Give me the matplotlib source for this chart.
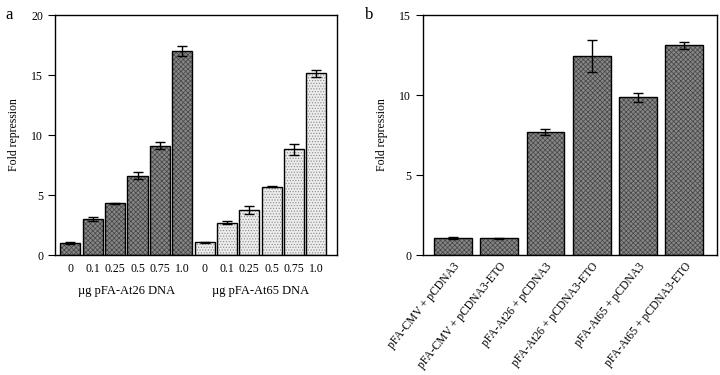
import matplotlib
matplotlib.use("Agg")
import matplotlib.pyplot as plt
import matplotlib.transforms as mtrans
import numpy as np

plt.rcParams['font.family'] = ['Liberation Serif', 'DejaVu Serif']
plt.rcParams['hatch.linewidth'] = 0.5

# Panel a data
doses = ["0", "0.1", "0.25", "0.5", "0.75", "1.0"]
at26_vals = [1.0, 3.0, 4.3, 6.6, 9.1, 17.0]
at26_err = [0.05, 0.2, 0.07, 0.3, 0.3, 0.45]
at65_vals = [1.05, 2.7, 3.75, 5.7, 8.8, 15.15]
at65_err = [0.05, 0.15, 0.3, 0.07, 0.45, 0.3]
group_labels = ["\u00b5g pFA-At26 DNA", "\u00b5g pFA-At65 DNA"]

# Panel b data
b_labels = ["pFA-CMV + pCDNA3", "pFA-CMV + pCDNA3-ETO", "pFA-At26 + pCDNA3",
            "pFA-At26 + pCDNA3-ETO", "pFA-At65 + pCDNA3", "pFA-At65 + pCDNA3-ETO"]
b_vals = [1.05, 1.05, 7.7, 12.45, 9.85, 13.1]
b_err = [0.07, 0.03, 0.2, 1.0, 0.3, 0.2]

fig = plt.figure(figsize=(7.2, 3.75), dpi=100)
axa = fig.add_axes([0.0764, 0.32, 0.3916, 0.64])
axb = fig.add_axes([0.5875, 0.32, 0.4083, 0.64])

dark_face, dark_hatch = '#868686', '#444444'
light_face, light_hatch = '#ececec', '#8a8a8a'


def textured_bars(ax, x, vals, width, face, hcol, hatch):
    ax.bar(x, vals, width=width, color=face, edgecolor=hcol, linewidth=0,
           hatch=hatch, zorder=2)
    ax.bar(x, vals, width=width, fill=False, edgecolor='black', linewidth=1.0,
           zorder=2.5)


n = len(doses)
xa1 = np.arange(n)
xa2 = np.arange(n) + n
textured_bars(axa, xa1, at26_vals, 0.9, dark_face, dark_hatch, 'xxxxxxx')
textured_bars(axa, xa2, at65_vals, 0.9, light_face, light_hatch, '......')
axa.errorbar(xa1, at26_vals, yerr=at26_err, fmt='none', ecolor='black',
             elinewidth=1.0, capsize=3.5, capthick=1.0, zorder=3)
axa.errorbar(xa2, at65_vals, yerr=at65_err, fmt='none', ecolor='black',
             elinewidth=1.0, capsize=3.5, capthick=1.0, zorder=3)
axa.set_xlim(-0.69, 2 * n - 0.08)
axa.set_ylim(0, 20)
axa.set_yticks([0, 5, 10, 15, 20])
axa.set_xticks(list(xa1) + list(xa2))
axa.set_xticklabels(doses + doses, fontsize=8.5)
axa.tick_params(axis='x', length=0, pad=6)
axa.tick_params(axis='y', labelsize=8.5, length=5, width=0.8, direction='out')
axa.set_ylabel("Fold repression", fontsize=8.5, labelpad=8)
for i, lab in enumerate(group_labels):
    axa.text((n - 1) / 2 + i * n, -0.125, lab, transform=axa.get_xaxis_transform(),
             ha='center', va='top', fontsize=9)

xb = np.arange(len(b_vals))
textured_bars(axb, xb, b_vals, 0.82, dark_face, dark_hatch, 'xxxxxxx')
axb.errorbar(xb, b_vals, yerr=b_err, fmt='none', ecolor='black',
             elinewidth=1.0, capsize=3.5, capthick=1.0, zorder=3)
axb.set_xlim(-0.65, len(b_vals) - 0.29)
axb.set_ylim(0, 15)
axb.set_yticks([0, 5, 10, 15])
axb.set_xticks(xb)
axb.set_xticklabels(b_labels, rotation=51, ha='right', va='top',
                    rotation_mode='anchor', fontsize=8.4)
offset = mtrans.ScaledTranslation(8 / 100, 0, fig.dpi_scale_trans)
for lab in axb.get_xticklabels():
    lab.set_transform(lab.get_transform() + offset)
axb.tick_params(axis='x', length=0, pad=4)
axb.tick_params(axis='y', labelsize=8.5, length=5, width=0.8, direction='out')
axb.set_ylabel("Fold repression", fontsize=8.5, labelpad=8)

for ax in (axa, axb):
    for s in ax.spines.values():
        s.set_linewidth(1.0)

fig.text(0.007, 0.96, "a", fontsize=12, va='center')
fig.text(0.507, 0.96, "b", fontsize=12, va='center')

fig.savefig("out.png", dpi=100)
